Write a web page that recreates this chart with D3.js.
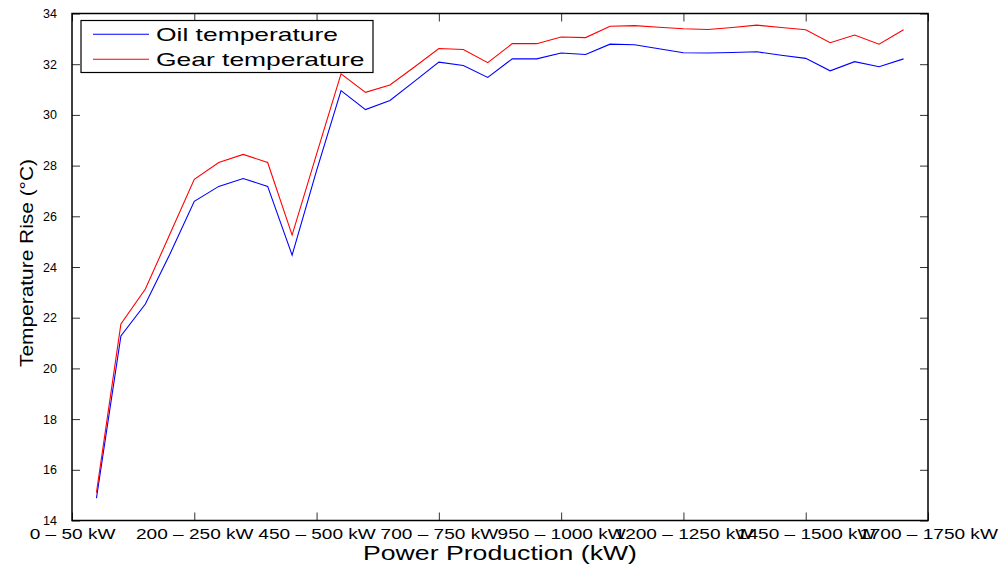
<!DOCTYPE html>
<html>
<head>
<meta charset="utf-8">
<script src="https://cdn.jsdelivr.net/npm/d3@7/dist/d3.min.js"></script>
<style>
  html, body { margin: 0; padding: 0; background: #fff; }
  svg { display: block; }
  text { font-family: "Liberation Sans", Arial, Helvetica, sans-serif; fill: #000; }
</style>
</head>
<body>
<svg id="chart" width="1000" height="564"></svg>
<script>
// ---- data ----
const binPositions = d3.range(1, 35); // 34 power bins plotted at positions 1..34
const oilTemperature = [14.88, 21.28, 22.54, 24.5, 26.59, 27.18, 27.49, 27.18, 24.47, 27.8,
  30.96, 30.21, 30.57, 31.32, 32.08, 31.95, 31.48, 32.21, 32.21, 32.44,
  32.38, 32.79, 32.77, 32.61, 32.45, 32.44, 32.46, 32.49, 32.35, 32.23,
  31.74, 32.1, 31.9, 32.21];
const gearTemperature = [15.1, 21.75, 23.13, 25.29, 27.46, 28.12, 28.44, 28.12, 25.26, 28.45,
  31.62, 30.89, 31.18, 31.89, 32.62, 32.58, 32.06, 32.81, 32.81, 33.07,
  33.05, 33.5, 33.52, 33.46, 33.4, 33.37, 33.45, 33.54, 33.45, 33.36,
  32.85, 33.15, 32.79, 33.36];
const xTickValues = [0, 5, 10, 15, 20, 25, 30, 35];
const xTickLabels = ["0 \u2013 50 kW", "200 \u2013 250 kW", "450 \u2013 500 kW", "700 \u2013 750 kW",
  "950 \u2013 1000 kW", "1200 \u2013 1250 kW", "1450 \u2013 1500 kW", "1700 \u2013 1750 kW"];
const yTickValues = [14, 16, 18, 20, 22, 24, 26, 28, 30, 32, 34];
const seriesNames = ["Oil temperature", "Gear temperature"];
const seriesColors = ["#0000ff", "#ff0000"];

// ---- layout ----
const L = 72, R = 928, T = 13.5, B = 520.5;
const svg = d3.select("#chart");
const x = d3.scaleLinear().domain([0, 35]).range([L, R]);
const y = d3.scaleLinear().domain([14, 34]).range([B, T]);
const tickLen = 8;

// lines
const series = [oilTemperature, gearTemperature];
const line = d3.line().x((d, i) => x(binPositions[i])).y(d => y(d));
series.forEach((s, k) => {
  svg.append("path").datum(s)
    .attr("d", line)
    .attr("fill", "none")
    .attr("stroke", seriesColors[k])
    .attr("stroke-width", 1.1)
    .attr("stroke-linejoin", "miter");
});

// axes (MATLAB style: inward ticks on all sides)
const gx = svg.append("g").attr("transform", `translate(0,${B})`)
  .call(d3.axisBottom(x).tickValues(xTickValues).tickSize(-tickLen).tickFormat((d, i) => xTickLabels[i]));
const gxTop = svg.append("g").attr("transform", `translate(0,${T})`)
  .call(d3.axisTop(x).tickValues(xTickValues).tickSize(-tickLen).tickFormat(""));
const gy = svg.append("g").attr("transform", `translate(${L},0)`)
  .call(d3.axisLeft(y).tickValues(yTickValues).tickSize(-tickLen).tickFormat(d3.format("d")).tickPadding(15));
const gyR = svg.append("g").attr("transform", `translate(${R},0)`)
  .call(d3.axisRight(y).tickValues(yTickValues).tickSize(-tickLen).tickFormat(""));

[gx, gxTop, gy, gyR].forEach(g => {
  g.select(".domain").remove();
  g.selectAll(".tick line").attr("stroke", "#333").attr("stroke-width", 1);
});
gy.selectAll(".tick text").attr("font-size", 12.5).attr("font-family", "Liberation Sans, Arial, sans-serif");
gx.selectAll(".tick text").attr("font-size", 15).attr("font-family", "Liberation Sans, Arial, sans-serif")
  .attr("dy", null).attr("y", 18.5)
  .each(function () {
    const w = this.getComputedTextLength();
    d3.select(this).attr("textLength", w * 1.27).attr("lengthAdjust", "spacingAndGlyphs");
  });

// box
svg.append("rect").attr("x", L).attr("y", T).attr("width", R - L).attr("height", B - T)
  .attr("fill", "none").attr("stroke", "#000").attr("stroke-width", 1.5);

// axis titles
const xt = svg.append("text").attr("x", (L + R) / 2).attr("y", 560).attr("text-anchor", "middle")
  .attr("font-size", 19.5).text("Power Production (kW)");
xt.attr("textLength", 274).attr("lengthAdjust", "spacingAndGlyphs");
const yt = svg.append("text").attr("transform", `translate(33,263) rotate(-90)`).attr("text-anchor", "middle")
  .attr("font-size", 18.5).text("Temperature Rise (\u00B0C)");
yt.attr("textLength", 208).attr("lengthAdjust", "spacingAndGlyphs");

// legend
const lg = svg.append("g");
lg.append("rect").attr("x", 81).attr("y", 20.5).attr("width", 292).attr("height", 52)
  .attr("fill", "#fff").attr("stroke", "#000").attr("stroke-width", 1.2);
seriesNames.forEach((name, k) => {
  const ly = 34.3 + k * 25;
  lg.append("line").attr("x1", 93).attr("x2", 149).attr("y1", ly).attr("y2", ly)
    .attr("stroke", seriesColors[k]).attr("stroke-width", 1.1);
  const t = lg.append("text").attr("x", 156).attr("y", ly + 7).attr("font-size", 19).text(name);
  const w = t.node().getComputedTextLength();
  t.attr("textLength", w * 1.39).attr("lengthAdjust", "spacingAndGlyphs");
});
</script>
</body>
</html>
